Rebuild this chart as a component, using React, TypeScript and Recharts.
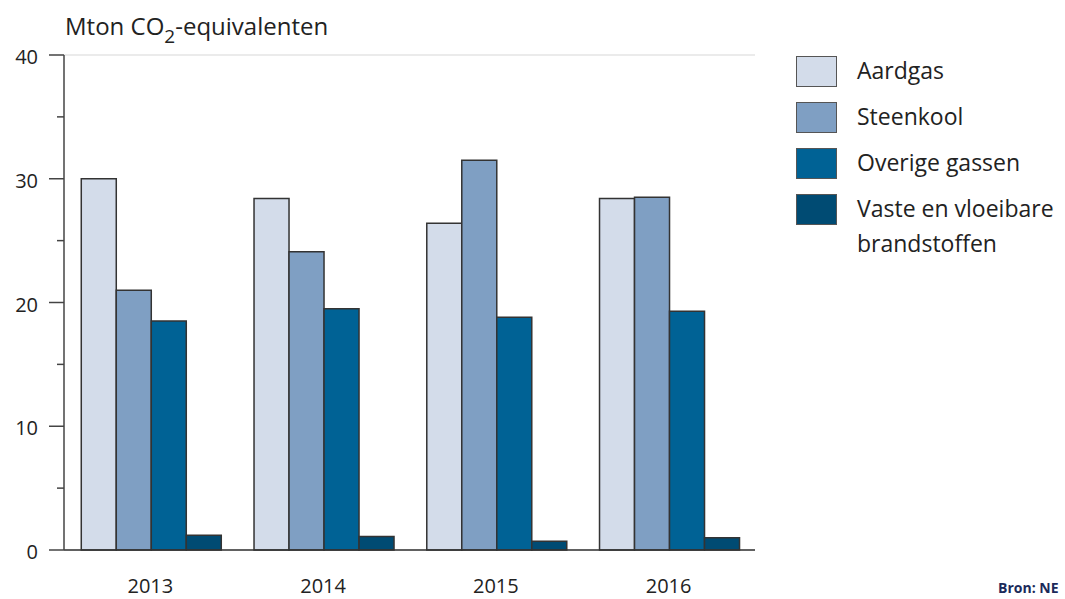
import { BarChart, Bar, XAxis, YAxis, CartesianGrid } from "recharts";

const years = ["2013", "2014", "2015", "2016"];
const aardgas = [30.0, 28.4, 26.4, 28.4];
const steenkool = [21.0, 24.1, 31.5, 28.5];
const overigeGassen = [18.5, 19.5, 18.8, 19.3];
const vasteBrandstoffen = [1.2, 1.1, 0.7, 1.0];
const yTicks = [0, 5, 10, 15, 20, 25, 30, 35, 40];
const gridTicks = [0, 10, 20, 30, 40];

const series = [
  { key: "aardgas", name: "Aardgas", color: "#d3dcea" },
  { key: "steenkool", name: "Steenkool", color: "#7f9fc3" },
  { key: "overige", name: "Overige gassen", color: "#006295" },
  { key: "vaste", name: "Vaste en vloeibare\nbrandstoffen", color: "#004b73" },
];

const data = years.map((year, i) => ({
  year,
  aardgas: aardgas[i],
  steenkool: steenkool[i],
  overige: overigeGassen[i],
  vaste: vasteBrandstoffen[i],
}));

const FONT = "'Open Sans', sans-serif";

const YTick = ({ x, y, payload }: any) => {
  const major = payload.value % 10 === 0;
  return (
    <g>
      <line x1={x - (major ? 15 : 7)} x2={x} y1={y} y2={y} stroke="#444" strokeWidth={1.5} />
      {major && (
        <text x={x - 26} y={y} dy={9} textAnchor="end" fontSize={20} fill="#222" fontFamily={FONT}>
          {payload.value}
        </text>
      )}
    </g>
  );
};

const LegendBox = () => (
  <div style={{ position: "absolute", left: 796, top: 56, fontFamily: FONT, fontSize: 23, color: "#222" }}>
    {series.map((s) => (
      <div key={s.key} style={{ display: "flex", alignItems: "flex-start", height: 46 }}>
        <div
          style={{
            width: 39,
            height: 29,
            background: s.color,
            border: "1.5px solid #555",
            flexShrink: 0,
          }}
        />
        <div style={{ marginLeft: 20, lineHeight: "35px", marginTop: -3, whiteSpace: "pre" }}>{s.name}</div>
      </div>
    ))}
  </div>
);

export default function App() {
  return (
    <div style={{ position: "absolute", left: 0, top: 0, width: 1065, height: 599, background: "#fff", overflow: "hidden" }}>
      <div style={{ position: "absolute", left: 65, top: 9, fontFamily: FONT, fontSize: 24, color: "#222" }}>
        Mton CO<sub style={{ fontSize: 19, verticalAlign: "-8px" }}>2</sub>-equivalenten
      </div>
      <BarChart
        width={1065}
        height={599}
        data={data}
        margin={{ top: 55, right: 310, bottom: 0, left: 0 }}
        barCategoryGap="10%"
        barGap={0}
      >
        <CartesianGrid horizontal vertical={false} yAxisId="grid" stroke="#e4e4e4" strokeWidth={1.5} />
        <XAxis
          dataKey="year"
          height={49}
          tickLine={false}
          axisLine={{ stroke: "#333", strokeWidth: 1.5 }}
          tick={{ fontSize: 20, fill: "#222", fontFamily: FONT }}
          tickMargin={23}
        />
        <YAxis
          width={64}
          domain={[0, 40]}
          ticks={yTicks}
          interval={0}
          tickSize={0}
          tickMargin={0}
          tickLine={false}
          axisLine={{ stroke: "#444", strokeWidth: 1.5 }}
          tick={<YTick />}
        />
        <YAxis yAxisId="grid" hide width={0} domain={[0, 40]} ticks={gridTicks} interval={0} />
        {series.map((s) => (
          <Bar
            key={s.key}
            dataKey={s.key}
            name={s.name}
            fill={s.color}
            stroke="#333"
            strokeWidth={1.5}
            isAnimationActive={false}
          />
        ))}
      </BarChart>
      <LegendBox />
      <div style={{ position: "absolute", left: 998, top: 578, fontFamily: FONT, fontSize: 14, fontWeight: 700, color: "#1b2a5a" }}>
        Bron: NE
      </div>
    </div>
  );
}
